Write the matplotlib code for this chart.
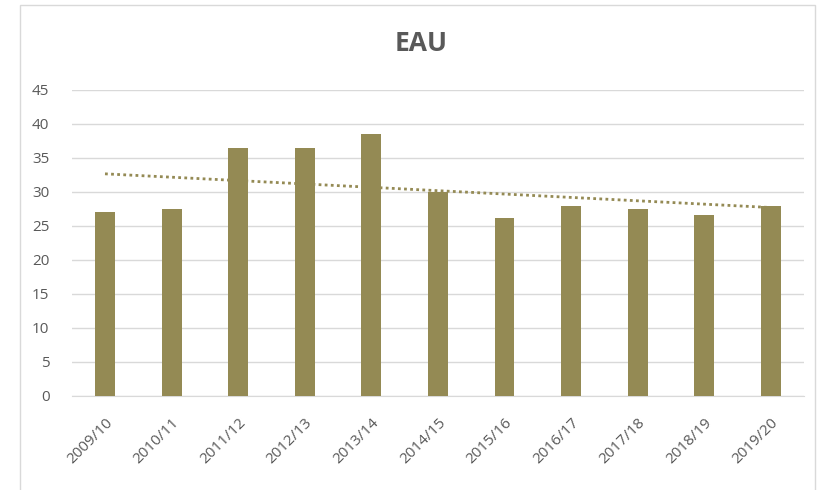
import numpy as np
import matplotlib.pyplot as plt
from matplotlib.patches import Rectangle

years = ["2009/10", "2010/11", "2011/12", "2012/13", "2013/14", "2014/15",
         "2015/16", "2016/17", "2017/18", "2018/19", "2019/20"]
values = [27.0, 27.5, 36.4, 36.4, 38.5, 30.0, 26.1, 28.0, 27.5, 26.6, 28.0]

bar_color = "#948A54"
text_color = "#595959"
grid_color = "#D9D9D9"

plt.rcParams["font.family"] = ["Open Sans", "DejaVu Sans"]

fig = plt.figure(figsize=(8.29, 4.9), dpi=100)
ax = fig.add_axes([0.0865, 0.192, 0.8835, 0.6245])

x = np.arange(len(years))
ax.bar(x, values, width=0.3, color=bar_color, zorder=3)

# linear trend line
coef = np.polyfit(x, values, 1)
ax.plot(x, np.polyval(coef, x), color=bar_color, linestyle=(0, (1, 1.2)),
        linewidth=2, zorder=4)

ax.set_xlim(-0.5, len(years) - 0.5)
ax.set_ylim(0, 45)
ax.set_yticks(range(0, 50, 5))
ax.set_xticks(x)
ax.set_xticklabels(years, rotation=45, ha="right", rotation_mode="anchor")
ax.tick_params(axis="both", length=0, colors=text_color, labelsize=11)
ax.tick_params(axis="x", pad=14)
ax.tick_params(axis="y", pad=16)

ax.grid(axis="y", color=grid_color, linewidth=1, zorder=0)
for side in ["top", "right", "left"]:
    ax.spines[side].set_visible(False)
ax.spines["bottom"].set_color(grid_color)

fig.text(0.508, 0.912, "EAU", ha="center", va="center", fontsize=19,
         fontweight="bold", color=text_color)

# chart border
fig.patches.append(Rectangle((20 / 829, -0.01), 795 / 829, 1 - 5 / 490 + 0.01,
                             transform=fig.transFigure, fill=False,
                             edgecolor="#D9D9D9", linewidth=1))

fig.savefig("out.png", dpi=100, facecolor="white")
